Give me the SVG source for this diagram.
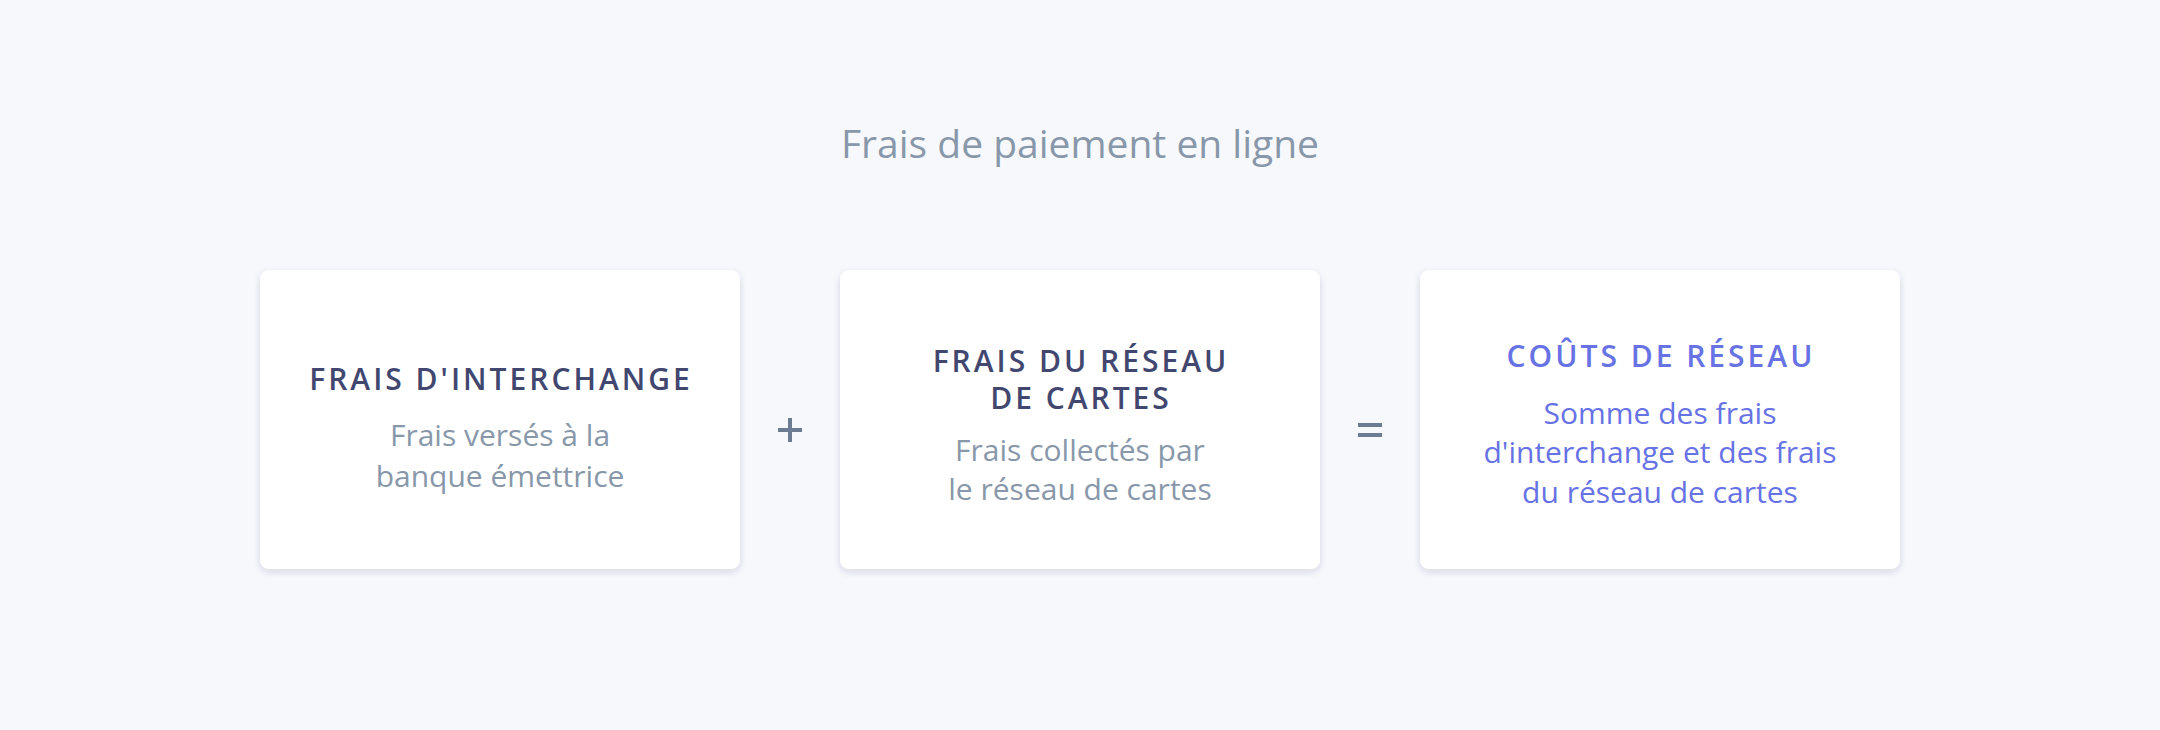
<svg xmlns="http://www.w3.org/2000/svg" width="2160" height="730" viewBox="0 0 2160 730">
<defs>
<filter id="sh" x="-10%" y="-10%" width="120%" height="130%">
<feDropShadow dx="0" dy="3" stdDeviation="3.5" flood-color="#32325d" flood-opacity="0.15"/>
</filter>
<style>
.card{fill:#ffffff;filter:url(#sh)}
text{font-family:"Open Sans","Noto Sans","Liberation Sans",sans-serif;text-anchor:middle}
.title{font-size:39px;fill:#8898aa}
.head{font-size:30px;font-weight:600;letter-spacing:3px;fill:#424770}
.sub{font-size:30px;fill:#8898aa}
.hb{fill:#6772e5}
.op{fill:#6b7c93}
</style>
</defs>
<rect width="2160" height="730" fill="#f6f8fc"/>
<text class="title" x="1080" y="158">Frais de paiement en ligne</text>
<g id="card-interchange">
<rect class="card" x="260" y="270" width="480" height="299" rx="9"/>
<text class="head" x="501" y="390">FRAIS D'INTERCHANGE</text>
<text class="sub" x="500" y="446">Frais versés à la</text>
<text class="sub" x="500" y="487">banque émettrice</text>
</g>
<g id="card-reseau">
<rect class="card" x="840" y="270" width="480" height="299" rx="9"/>
<text class="head" x="1081" y="372">FRAIS DU RÉSEAU</text>
<text class="head" x="1081" y="409">DE CARTES</text>
<text class="sub" x="1080" y="461">Frais collectés par</text>
<text class="sub" x="1080" y="500">le réseau de cartes</text>
</g>
<g id="card-couts">
<rect class="card" x="1420" y="270" width="480" height="299" rx="9"/>
<text class="head hb" x="1661" y="367">COÛTS DE RÉSEAU</text>
<text class="sub hb" x="1660" y="424">Somme des frais</text>
<text class="sub hb" x="1660" y="463">d'interchange et des frais</text>
<text class="sub hb" x="1660" y="503">du réseau de cartes</text>
</g>
<g id="connectors">
<rect class="op" x="778" y="428" width="24" height="4"/>
<rect class="op" x="788" y="418" width="4" height="24"/>
<rect class="op" x="1358" y="423" width="24" height="4"/>
<rect class="op" x="1358" y="433" width="24" height="4"/>
</g>
</svg>
